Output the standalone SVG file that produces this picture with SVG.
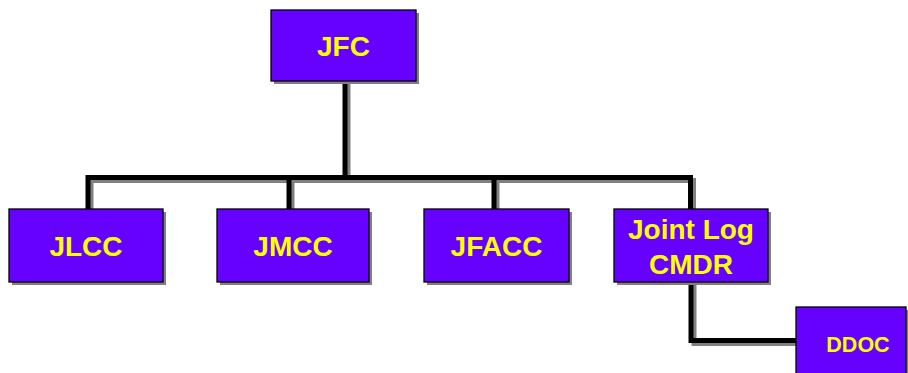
<svg xmlns="http://www.w3.org/2000/svg" width="908" height="373" viewBox="0 0 908 373">
<defs>
<style>
.sh{fill:#808080;stroke:none}
.box{fill:#6600FF;stroke:#000;stroke-width:1.3}
.t{font-family:"Liberation Sans",Arial,sans-serif;font-weight:bold;fill:#FFFF00;text-anchor:middle}
.ln{fill:none;stroke:#000;stroke-width:5;stroke-linejoin:miter}
.lns{fill:none;stroke:#808080;stroke-width:5;stroke-linejoin:miter}
</style>
</defs>
<rect width="908" height="373" fill="#fff"/>
<g id="connectors">
<g transform="translate(3,3)">
<path class="lns" d="M345 81V177.5"/>
<path class="lns" d="M88 209V177.5H690.5V209"/>
<path class="lns" d="M289 177.5V209"/>
<path class="lns" d="M494 177.5V209"/>
<path class="lns" d="M691 282V340.5H796"/>
</g>
<path class="ln" d="M345 81V177.5"/>
<path class="ln" d="M88 209V177.5H690.5V209"/>
<path class="ln" d="M289 177.5V209"/>
<path class="ln" d="M494 177.5V209"/>
<path class="ln" d="M691 282V340.5H796"/>
</g>
<g id="jfc">
<rect class="sh" x="274" y="13" width="145" height="71"/>
<rect class="box" x="271" y="10" width="145" height="71"/>
<text class="t" x="343.5" y="56" font-size="28">JFC</text>
</g>
<g id="jlcc">
<rect class="sh" x="12" y="212" width="154" height="73"/>
<rect class="box" x="9" y="209" width="154" height="73"/>
<text class="t" x="86" y="256" font-size="28">JLCC</text>
</g>
<g id="jmcc">
<rect class="sh" x="220" y="212" width="152" height="73"/>
<rect class="box" x="217" y="209" width="152" height="73"/>
<text class="t" x="293" y="256" font-size="28">JMCC</text>
</g>
<g id="jfacc">
<rect class="sh" x="427" y="212" width="145" height="73"/>
<rect class="box" x="424" y="209" width="145" height="73"/>
<text class="t" x="496.5" y="256" font-size="28">JFACC</text>
</g>
<g id="jointlog">
<rect class="sh" x="617" y="212" width="154" height="73"/>
<rect class="box" x="614" y="209" width="154" height="73"/>
<text class="t" x="691" y="239" font-size="28">Joint Log</text>
<text class="t" x="691" y="274" font-size="28">CMDR</text>
</g>
<g id="ddoc">
<rect class="sh" x="799" y="310" width="112" height="70"/>
<rect class="box" x="796" y="307" width="110" height="70"/>
<text class="t" x="858" y="351.5" font-size="21.5">DDOC</text>
</g>
</svg>
